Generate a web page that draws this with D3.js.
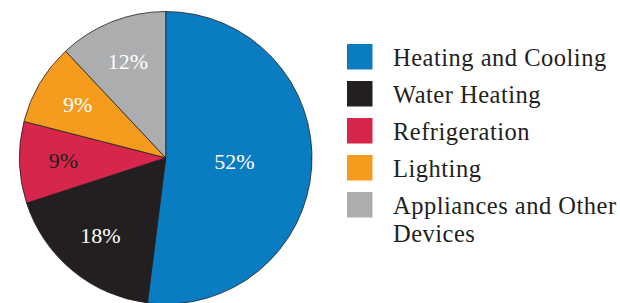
<!DOCTYPE html>
<html>
<head>
<meta charset="utf-8">
<script src="https://cdn.jsdelivr.net/npm/d3@7"></script>
<style>
  html, body { margin: 0; padding: 0; background: #fff; }
  svg { display: block; }
</style>
</head>
<body>
<figure id="pie" style="margin:0"></figure>
<script>
const categories = ["Heating and Cooling", "Water Heating", "Refrigeration", "Lighting", "Appliances and Other Devices"];
const shares = [52, 18, 9, 9, 12];
const sliceLabels = ["52%", "18%", "9%", "9%", "12%"];
const legendLines = [["Heating and Cooling"], ["Water Heating"], ["Refrigeration"], ["Lighting"], ["Appliances and Other", "Devices"]];
const colors = ["#0a7cc1", "#231f20", "#d6264b", "#f59c1e", "#acadaf"];
const labelColors = ["#fff", "#fff", "#231f20", "#fff", "#fff"];

const width = 620, height = 303;
const cx = 165.7, cy = 157.8, radius = 146.3;
const serif = "'Liberation Serif', 'Times New Roman', Times, 'DejaVu Serif', serif";

const svg = d3.select("figure#pie")
  .append("svg")
  .attr("width", width)
  .attr("height", height)
  .style("font-family", serif);

const g = svg.append("g")
  .attr("transform", "translate(" + cx + "," + cy + ")");

// pie starts at 12 o'clock and runs clockwise, keep input order
const pie = d3.pie().sort(null).value(d => d);
const arcs = pie(shares);

const arc = d3.arc().innerRadius(0).outerRadius(radius);

g.selectAll("path")
  .data(arcs)
  .enter()
  .append("path")
  .attr("d", arc)
  .attr("fill", (d, i) => colors[i])
  .attr("stroke", "#231f20")
  .attr("stroke-width", 0.8);

// big slice gets its label closer to the centre
const labelArc = (d, i) => {
  const r = i === 0 ? radius * 0.94 : radius * 1.4;
  return d3.arc().innerRadius(0).outerRadius(r).centroid(d);
};

g.selectAll("text.pct")
  .data(arcs)
  .enter()
  .append("text")
  .attr("class", "pct")
  .attr("x", (d, i) => labelArc(d, i)[0])
  .attr("y", (d, i) => labelArc(d, i)[1])
  .attr("dy", "0.3em")
  .attr("text-anchor", "middle")
  .attr("font-family", serif)
  .attr("font-size", 22)
  .attr("fill", (d, i) => labelColors[i])
  .text((d, i) => sliceLabels[i]);

// legend
const y = d3.scaleBand()
  .domain(categories)
  .range([44, 44 + 37 * categories.length]);

const legend = svg.append("g");

const rows = legend.selectAll("g")
  .data(categories)
  .enter()
  .append("g")
  .attr("transform", d => "translate(347," + y(d) + ")");

rows.append("rect")
  .attr("width", 25.5)
  .attr("height", 25.5)
  .attr("fill", (d, i) => colors[i]);

rows.append("text")
  .attr("x", 46)
  .attr("y", 22)
  .attr("font-family", serif)
  .attr("font-size", 24.5)
  .attr("letter-spacing", 0.5)
  .attr("fill", "#231f20")
  .selectAll("tspan")
  .data((d, i) => legendLines[i])
  .enter()
  .append("tspan")
  .attr("x", 46)
  .attr("dy", (d, j) => j === 0 ? 0 : 27.7)
  .text(d => d);
</script>
</body>
</html>
